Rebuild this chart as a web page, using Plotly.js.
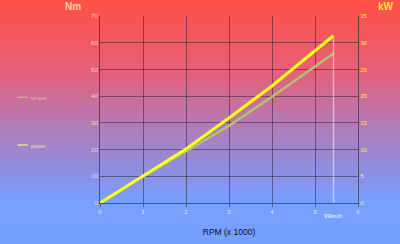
<!DOCTYPE html>
<html><head><meta charset="utf-8">
<script src="https://cdn.plot.ly/plotly-3.0.1.min.js"></script>
<style>
html,body{margin:0;padding:0;}
#chart{width:400px;height:244px;background:linear-gradient(to bottom,#ff5045 0%,#e5607a 30%,#b57ab4 50%,#8e8ee0 70%,#78a0ff 82%,#75a0ff 100%);}
</style></head>
<body><div id="chart"></div>
<script>
const rpm = [0, 1, 2, 3, 4, 5, 5.43];
const torqueNm = [0, 9.9, 19.3, 28.9, 39.8, 51.2, 56.0];
const powerKw = [0, 5.1, 10.1, 15.9, 21.9, 28.5, 31.3];
const markerRpm = 5.43;
const markerLabel = "99km/h";
const xTicks = [0, 1, 2, 3, 4, 5, 6];

const traces = [
  {x: [markerRpm, markerRpm], y: [0, powerKw[powerKw.length-1]], yaxis: 'y2', mode: 'lines',
   line: {color: 'rgba(255,255,255,0.45)', width: 1.5}, showlegend: false, hoverinfo: 'skip'},
  {x: rpm, y: torqueNm, name: 'torque', mode: 'lines', line: {color: '#aec46a', width: 2.5}},
  {x: rpm, y: powerKw, name: 'power', yaxis: 'y2', mode: 'lines', line: {color: '#ffff1a', width: 3}}
];

const layout = {
  width: 400, height: 244,
  margin: {l: 100, r: 42, t: 16, b: 41},
  paper_bgcolor: 'rgba(0,0,0,0)', plot_bgcolor: 'rgba(0,0,0,0)',
  showlegend: false,
  font: {family: 'Liberation Sans, Arial, sans-serif'},
  xaxis: {range: [0, 6], tickvals: xTicks, showgrid: true, gridcolor: 'rgba(40,30,50,0.5)', gridwidth: 1,
    zeroline: false, showline: true, linecolor: 'rgba(40,30,50,0.6)', ticks: 'outside', ticklen: 3,
    tickcolor: 'rgba(40,30,50,0.5)', tickfont: {size: 6, color: '#e8e8f0'},
    title: {text: 'RPM (x 1000)', font: {size: 8.5, color: '#111122'}, standoff: 14}},
  yaxis: {range: [0, 70], dtick: 10, showgrid: true, gridcolor: 'rgba(40,30,50,0.5)', gridwidth: 1,
    zeroline: false, showline: true, linecolor: 'rgba(40,30,50,0.6)', ticks: '',
    tickfont: {size: 6, color: '#f2d8b0'}},
  yaxis2: {range: [0, 35], dtick: 5, overlaying: 'y', side: 'right', showgrid: false, zeroline: false,
    showline: true, linecolor: 'rgba(40,30,50,0.6)', ticks: '', tickfont: {size: 6, color: '#ffe83a'}},
  annotations: [
    {xref: 'paper', yref: 'paper', x: -0.103, y: 1.05, xanchor: 'center', yanchor: 'middle', showarrow: false,
     text: '<b>Nm</b>', font: {size: 10, color: '#e8d8a0'}},
    {xref: 'paper', yref: 'paper', x: 1.11, y: 1.05, xanchor: 'center', yanchor: 'middle', showarrow: false,
     text: '<b>kW</b>', font: {size: 10, color: '#ffe83a'}},
    {x: markerRpm, y: 0, xref: 'x', yref: 'y', yshift: -8, xanchor: 'center', yanchor: 'top', showarrow: false,
     text: markerLabel, font: {size: 5.5, color: '#f4f4ff'}},
    {xref: 'paper', yref: 'paper', x: -0.275, y: 0.56, xanchor: 'left', yanchor: 'middle', showarrow: false,
     text: 'torque', font: {size: 5.5, color: '#c8c890'}},
    {xref: 'paper', yref: 'paper', x: -0.275, y: 0.305, xanchor: 'left', yanchor: 'middle', showarrow: false,
     text: 'power', font: {size: 5.5, color: '#f0e070'}}
  ],
  shapes: [
    {type: 'line', xref: 'paper', yref: 'paper', x0: -0.32, x1: -0.279, y0: 0.565, y1: 0.565,
     line: {color: '#b4c070', width: 1.5}},
    {type: 'line', xref: 'paper', yref: 'paper', x0: -0.32, x1: -0.279, y0: 0.31, y1: 0.31,
     line: {color: '#f0e070', width: 1.5}}
  ]
};
Plotly.newPlot('chart', traces, layout, {displayModeBar: false, staticPlot: true});
</script></body></html>
